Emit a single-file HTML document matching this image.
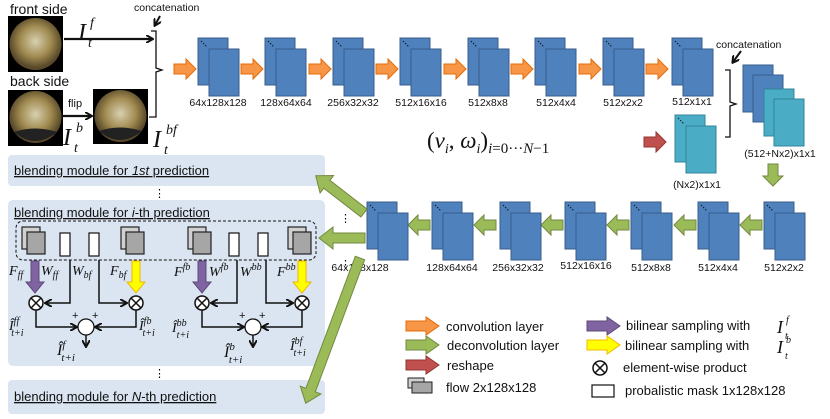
<!DOCTYPE html>
<html><head><meta charset="utf-8"><style>
html,body{margin:0;padding:0;background:#fff;}
svg{display:block;font-family:"Liberation Sans",sans-serif;}
.l{font-size:10.5px;fill:#111;}
.m{font-family:"Liberation Serif",serif;font-style:italic;fill:#111;}
.bt{font-size:13px;fill:#111;text-decoration:underline;}
</style></head><body>
<svg width="830" height="419" viewBox="0 0 830 419" xmlns="http://www.w3.org/2000/svg">
<defs>
<g id="blk"><rect x="0" y="0" width="30" height="47" fill="#4f81bd" stroke="#385d8a"/><rect x="11" y="11" width="30" height="47" fill="#4f81bd" stroke="#385d8a"/><path d="M3 3l6 6" stroke="#111" stroke-dasharray="1.5 1.5"/></g>
<g id="tblk"><rect x="0" y="0" width="30" height="47" fill="#4bacc6" stroke="#31849b"/><rect x="11" y="11" width="30" height="47" fill="#4bacc6" stroke="#31849b"/><path d="M3 3l6 6" stroke="#111" stroke-dasharray="1.5 1.5"/></g>
<polygon id="ar" points="0,-5 12,-5 12,-10 22,0 12,10 12,5 0,5"/>
<polygon id="lar" points="0,-5 20,-5 20,-9 33,0 20,9 20,5 0,5"/>
<radialGradient id="fe" cx="50%" cy="45%" r="50%"><stop offset="0" stop-color="#d8d0b0"/><stop offset="0.6" stop-color="#a08a50"/><stop offset="1" stop-color="#5a4a2a"/></radialGradient>
<g id="flow"><rect x="0" y="0" width="18" height="22" fill="#d0d0d0" stroke="#222" stroke-width="1.2"/><rect x="5" y="5" width="18" height="22" fill="#a6a6a6" stroke="#222" stroke-width="1.2"/></g>
<g id="ot"><circle r="7" fill="#fff" stroke="#111" stroke-width="1.5"/><path d="M-5,-5L5,5M5,-5L-5,5" stroke="#111" stroke-width="1.5"/></g>
<marker id="ah" markerWidth="8" markerHeight="8" refX="6" refY="4" orient="auto" markerUnits="userSpaceOnUse"><path d="M0,0L7,4L0,8" fill="none" stroke="#111" stroke-width="2"/></marker>
</defs>

<!-- images -->
<text x="10" y="14" font-size="14" fill="#111">front side</text>
<rect x="8" y="16" width="55" height="56" fill="#000"/><circle cx="35.5" cy="44" r="26" fill="url(#fe)"/>
<text x="10" y="86" font-size="14" fill="#111">back side</text>
<rect x="8" y="90" width="55" height="56" fill="#000"/><circle cx="35.5" cy="117" r="26" fill="url(#fe)"/><path d="M14 132 Q35 150 57 132 Q35 125 14 132Z" fill="#222"/>
<rect x="93" y="89" width="55" height="55" fill="#000"/><circle cx="120.5" cy="116" r="26" fill="url(#fe)"/><path d="M99 131 Q120 149 142 131 Q120 124 99 131Z" fill="#222"/>
<line x1="64" y1="39" x2="152" y2="39" stroke="#111" stroke-width="2.2" marker-end="url(#ah)"/>
<line x1="62" y1="116" x2="91" y2="116" stroke="#111" stroke-width="2.2" marker-end="url(#ah)"/>
<text x="68" y="107" font-size="11" fill="#111">flip</text>
<path d="M149,117 H156 V72 L162,70 L156,68 V31 H151" fill="none" stroke="#111" stroke-width="1.3"/>
<text x="134" y="11" class="l" font-size="11">concatenation</text>
<line x1="160" y1="16" x2="155" y2="25" stroke="#111" stroke-width="2" marker-end="url(#ah)"/>
<text x="78" y="40" class="m" font-size="24">I</text><text x="90" y="27" class="m" font-size="14">f</text><text x="88" y="47" class="m" font-size="14">t</text>
<text x="63" y="145" class="m" font-size="24">I</text><text x="76" y="132" class="m" font-size="14">b</text><text x="74" y="152" class="m" font-size="14">t</text>
<text x="153" y="147" class="m" font-size="24">I</text><text x="166" y="134" class="m" font-size="14">bf</text><text x="164" y="154" class="m" font-size="14">t</text>

<!-- top row -->
<g fill="#f79646" stroke="#e46c0a">
<use href="#ar" x="174" y="69"/><use href="#ar" x="241" y="69"/><use href="#ar" x="309" y="69"/><use href="#ar" x="376" y="69"/><use href="#ar" x="444" y="69"/><use href="#ar" x="511" y="69"/><use href="#ar" x="579" y="69"/><use href="#ar" x="646" y="69"/>
</g>
<use href="#blk" x="198" y="38"/><use href="#blk" x="265" y="38"/><use href="#blk" x="333" y="38"/><use href="#blk" x="400" y="38"/><use href="#blk" x="468" y="38"/><use href="#blk" x="535" y="38"/><use href="#blk" x="603" y="38"/><use href="#blk" x="672" y="38"/>
<g class="l" text-anchor="middle">
<text x="218" y="106">64x128x128</text><text x="286" y="106">128x64x64</text><text x="353" y="106">256x32x32</text><text x="421" y="106">512x16x16</text><text x="488" y="106">512x8x8</text><text x="556" y="106">512x4x4</text><text x="623" y="106">512x2x2</text><text x="692" y="105">512x1x1</text>
</g>
<!-- right concat -->
<text x="716" y="48" class="l">concatenation</text>
<line x1="741" y1="51" x2="733" y2="62" stroke="#111" stroke-width="2" marker-end="url(#ah)"/>
<path d="M725,70 H730 V102 L736,104 L730,106 V137 H725" fill="none" stroke="#111" stroke-width="1.3"/>
<rect x="743" y="65" width="30" height="47" fill="#4f81bd" stroke="#385d8a"/>
<rect x="753" y="75" width="30" height="47" fill="#4f81bd" stroke="#385d8a"/>
<rect x="764" y="89" width="30" height="47" fill="#4bacc6" stroke="#31849b"/>
<rect x="774" y="99" width="30" height="47" fill="#4bacc6" stroke="#31849b"/>
<text x="780" y="157" class="l" text-anchor="middle">(512+Nx2)x1x1</text>
<use href="#tblk" x="675" y="115"/>
<text x="697" y="188" class="l" text-anchor="middle">(Nx2)x1x1</text>
<use href="#ar" x="644" y="142" fill="#c0504d" stroke="#943634"/>
<text x="427" y="148" font-family="Liberation Serif,serif" font-size="23" fill="#111">(<tspan font-style="italic">v</tspan><tspan font-size="14" dy="5" font-style="italic">i</tspan><tspan dy="-5">, </tspan><tspan font-style="italic">ω</tspan><tspan font-size="14" dy="5" font-style="italic">i</tspan><tspan dy="-5">)</tspan><tspan font-size="15" dy="5"><tspan font-style="italic">i</tspan>=0···<tspan font-style="italic">N</tspan>−1</tspan></text>
<use href="#ar" transform="translate(773,164) rotate(90)" fill="#9bbb59" stroke="#71893f"/>

<!-- bottom row -->
<g fill="#9bbb59" stroke="#71893f">
<use href="#ar" transform="translate(430,225) scale(-1,1)"/><use href="#ar" transform="translate(496,225) scale(-1,1)"/><use href="#ar" transform="translate(563,225) scale(-1,1)"/><use href="#ar" transform="translate(629,225) scale(-1,1)"/><use href="#ar" transform="translate(696,225) scale(-1,1)"/><use href="#ar" transform="translate(762,225) scale(-1,1)"/>
</g>
<use href="#blk" x="367" y="202"/><use href="#blk" x="432" y="202"/><use href="#blk" x="500" y="202"/><use href="#blk" x="565" y="202"/><use href="#blk" x="631" y="202"/><use href="#blk" x="698" y="202"/><use href="#blk" x="764" y="202"/>
<g class="l" text-anchor="middle">
<text x="360" y="271">64x128x128</text><text x="452" y="271">128x64x64</text><text x="518" y="271">256x32x32</text><text x="586" y="269">512x16x16</text><text x="651" y="271">512x8x8</text><text x="718" y="271">512x4x4</text><text x="784" y="271">512x2x2</text>
</g>
<text x="340" y="222" font-size="11">⋮</text><text x="340" y="268" font-size="11">⋮</text>

<!-- modules -->
<rect x="8" y="155" width="317" height="31" rx="4" fill="#dbe5f1"/>
<text x="14" y="175" class="bt">blending module for <tspan font-style="italic">1st</tspan> prediction</text>
<text x="154" y="197" font-size="11">⋮</text>
<rect x="8" y="200" width="317" height="166" rx="5" fill="#dbe5f1"/>
<text x="14" y="217" class="bt">blending module for <tspan font-style="italic">i</tspan>-th prediction</text>
<text x="154" y="377" font-size="11">⋮</text>
<rect x="8" y="380" width="317" height="34" rx="4" fill="#dbe5f1"/>
<text x="14" y="401" class="bt">blending module for <tspan font-style="italic">N</tspan>-th prediction</text>

<!-- big green arrows on top -->
<g fill="#9bbb59" stroke="#71893f">
<polygon points="0,-5 47,-5 47,-11 61,0 47,11 47,5 0,5" transform="translate(364,213) rotate(217.7)"/>
<polygon points="0,-5 32,-5 32,-11 46,0 32,11 32,5 0,5" transform="translate(365,238) rotate(180)"/>
<polygon points="0,-5 141,-5 141,-11 155,0 141,11 141,5 0,5" transform="translate(360,258) rotate(110.5)"/>
</g>

<rect x="16" y="221" width="300" height="39" rx="7" fill="none" stroke="#111" stroke-dasharray="3 2"/>
<use href="#flow" x="22" y="227"/><rect x="60" y="233" width="10" height="23" fill="#fff" stroke="#111" stroke-width="1.2"/><rect x="89" y="233" width="10" height="23" fill="#fff" stroke="#111" stroke-width="1.2"/><use href="#flow" x="121" y="227"/>
<use href="#flow" x="188" y="227"/><rect x="229" y="233" width="10" height="23" fill="#fff" stroke="#111" stroke-width="1.2"/><rect x="258" y="233" width="10" height="23" fill="#fff" stroke="#111" stroke-width="1.2"/><use href="#flow" x="288" y="227"/>

<polygon points="31,261 39,261 39,282 44,282 35,293 26,282 31,282" fill="#8064a2" stroke="#5f497a"/>
<polygon points="132,261 140,261 140,282 145,282 136,293 127,282 132,282" fill="#ffff00" stroke="#f0b800"/>
<polygon points="198,261 206,261 206,282 211,282 202,293 193,282 198,282" fill="#8064a2" stroke="#5f497a"/>
<polygon points="298,261 306,261 306,282 311,282 302,293 293,282 298,282" fill="#ffff00" stroke="#f0b800"/>
<g stroke="#111" stroke-width="1.5" fill="none">
<path d="M70,260 V303 H46" marker-end="url(#ah)"/><path d="M99,260 V303 H126" marker-end="url(#ah)"/>
<path d="M237,260 V303 H212" marker-end="url(#ah)"/><path d="M266,260 V303 H292" marker-end="url(#ah)"/>
<path d="M36,310 V327 H76" marker-end="url(#ah)"/><path d="M136,310 V327 H96" marker-end="url(#ah)"/>
<path d="M202,310 V327 H243" marker-end="url(#ah)"/><path d="M302,310 V327 H263" marker-end="url(#ah)"/>
<path d="M86,335 V346" marker-end="url(#ah)"/><path d="M253,335 V346" marker-end="url(#ah)"/>
</g>
<use href="#ot" x="36" y="303"/><use href="#ot" x="136" y="303"/><use href="#ot" x="202" y="303"/><use href="#ot" x="302" y="303"/>
<circle cx="86" cy="327" r="8" fill="#fff" stroke="#111" stroke-width="1.3"/><circle cx="253" cy="327" r="8" fill="#fff" stroke="#111" stroke-width="1.3"/>
<g font-size="11" fill="#111"><text x="72" y="319">+</text><text x="92" y="319">+</text><text x="239" y="319">+</text><text x="259" y="319">+</text></g>
<g class="m" font-size="14">
<text x="9" y="275">F<tspan font-size="10" dy="3">ff</tspan></text><text x="41" y="275">W<tspan font-size="10" dy="3">ff</tspan></text><text x="72" y="275">W<tspan font-size="10" dy="3">bf</tspan></text><text x="110" y="275">F<tspan font-size="10" dy="3">bf</tspan></text>
<text x="174" y="276">F<tspan font-size="10" dy="-6">fb</tspan></text><text x="209" y="276">W<tspan font-size="10" dy="-6">fb</tspan></text><text x="240" y="276">W<tspan font-size="10" dy="-6">bb</tspan></text><text x="277" y="276">F<tspan font-size="10" dy="-6">bb</tspan></text>
<text x="9" y="330">Î<tspan font-size="10" dy="-6">ff</tspan><tspan font-size="10" dx="-8" dy="12">t+i</tspan></text>
<text x="139" y="330">Î<tspan font-size="10" dy="-6">fb</tspan><tspan font-size="10" dx="-9" dy="12">t+i</tspan></text>
<text x="172" y="332">Î<tspan font-size="10" dy="-6">bb</tspan><tspan font-size="10" dx="-10" dy="12">t+i</tspan></text>
<text x="290" y="350">Î<tspan font-size="10" dy="-6">bf</tspan><tspan font-size="10" dx="-9" dy="12">t+i</tspan></text>
<text x="57" y="355" font-size="16">Î<tspan font-size="11" dy="-7">f</tspan><tspan font-size="11" dx="-4" dy="13">t+i</tspan></text>
<text x="224" y="357" font-size="16">Î<tspan font-size="11" dy="-7">b</tspan><tspan font-size="11" dx="-6" dy="13">t+i</tspan></text>
</g>

<!-- legend -->
<use href="#lar" x="406" y="326" fill="#f79646" stroke="#e46c0a"/>
<use href="#lar" x="406" y="345" fill="#9bbb59" stroke="#71893f"/>
<use href="#lar" x="406" y="365" fill="#c0504d" stroke="#943634"/>
<rect x="408" y="378" width="16" height="10" fill="#d0d0d0" stroke="#222"/><rect x="412" y="382" width="20" height="11" fill="#a6a6a6" stroke="#222"/>
<g font-size="13" fill="#111">
<text x="446" y="331">convolution layer</text><text x="447" y="350">deconvolution layer</text><text x="447" y="370">reshape</text><text x="446" y="392">flow  2x128x128</text>
<text x="626" y="330">bilinear sampling with</text><text x="625" y="350">bilinear sampling with</text><text x="623" y="372">element-wise product</text><text x="625" y="395">probalistic mask  1x128x128</text>
</g>
<use href="#lar" x="587" y="326" fill="#8064a2" stroke="#5f497a"/>
<use href="#lar" x="587" y="345" fill="#ffff00" stroke="#f0b800"/>
<use href="#ot" x="600" y="368"/>
<rect x="592" y="385" width="22" height="12" fill="#fff" stroke="#111" stroke-width="1.2"/>
<g class="m"><text x="777" y="333" font-size="18">I</text><text x="786" y="323" font-size="10">f</text><text x="785" y="339" font-size="10">t</text>
<text x="777" y="353" font-size="18">I</text><text x="786" y="343" font-size="10">b</text><text x="785" y="359" font-size="10">t</text></g>
</svg>
</body></html>
